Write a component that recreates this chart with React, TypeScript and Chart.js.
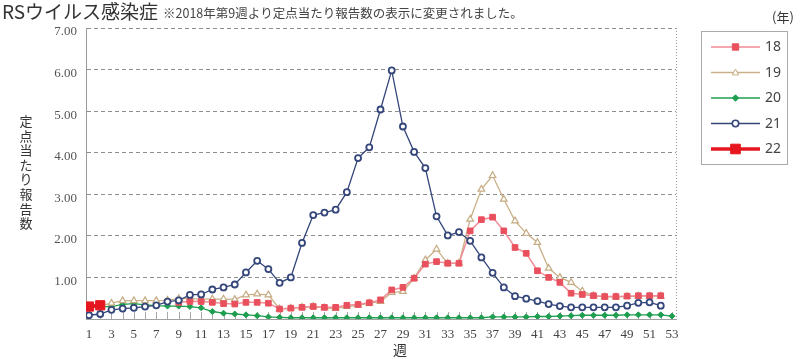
import React, { useEffect, useRef } from 'react';
import { Chart, registerables } from 'chart.js';

Chart.register(...registerables);

const weeks = [1, 2, 3, 4, 5, 6, 7, 8, 9, 10, 11, 12, 13, 14, 15, 16, 17, 18, 19, 20, 21, 22, 23, 24, 25, 26, 27, 28, 29, 30, 31, 32, 33, 34, 35, 36, 37, 38, 39, 40, 41, 42, 43, 44, 45, 46, 47, 48, 49, 50, 51, 52, 53];
const xTickLabels = [1, 3, 5, 7, 9, 11, 13, 15, 17, 19, 21, 23, 25, 27, 29, 31, 33, 35, 37, 39, 41, 43, 45, 47, 49, 51, 53];
const yTickValues = [0, 1, 2, 3, 4, 5, 6, 7];
const seriesNames = ['18', '19', '20', '21', '22'];

const s18 = [null, null, null, null, null, null, null, null, 0.40, 0.42, 0.42, 0.40, 0.37, 0.36, 0.40, 0.40, 0.38, 0.24, 0.26, 0.28, 0.30, 0.28, 0.28, 0.33, 0.35, 0.39, 0.46, 0.70, 0.76, 0.98, 1.32, 1.38, 1.34, 1.34, 2.12, 2.39, 2.45, 2.12, 1.72, 1.58, 1.16, 1.00, 0.88, 0.62, 0.59, 0.56, 0.54, 0.54, 0.55, 0.56, 0.56, 0.56, null];
const s19 = [0.30, 0.32, 0.38, 0.44, 0.44, 0.44, 0.44, 0.45, 0.49, 0.49, 0.48, 0.48, 0.48, 0.47, 0.58, 0.60, 0.58, 0.24, 0.26, 0.28, 0.30, 0.27, 0.25, 0.30, 0.33, 0.38, 0.42, 0.64, 0.66, 0.98, 1.42, 1.68, 1.34, 1.34, 2.40, 3.12, 3.45, 2.88, 2.36, 2.06, 1.84, 1.22, 1.00, 0.88, 0.67, 0.56, 0.53, 0.53, 0.54, 0.55, 0.55, 0.55, null];
const s20 = [0.28, 0.30, 0.30, 0.35, 0.37, 0.34, 0.32, 0.31, 0.31, 0.30, 0.27, 0.18, 0.14, 0.12, 0.10, 0.08, 0.05, 0.04, 0.03, 0.03, 0.03, 0.03, 0.03, 0.03, 0.03, 0.03, 0.03, 0.03, 0.03, 0.03, 0.03, 0.03, 0.03, 0.03, 0.03, 0.03, 0.05, 0.05, 0.05, 0.05, 0.06, 0.06, 0.07, 0.08, 0.09, 0.09, 0.09, 0.09, 0.10, 0.10, 0.10, 0.10, 0.07];
const s21 = [0.09, 0.12, 0.22, 0.25, 0.27, 0.30, 0.33, 0.42, 0.45, 0.58, 0.59, 0.71, 0.76, 0.83, 1.12, 1.40, 1.20, 0.87, 1.00, 1.83, 2.50, 2.56, 2.63, 3.05, 3.87, 4.13, 5.04, 5.98, 4.63, 4.02, 3.63, 2.47, 2.01, 2.09, 1.88, 1.48, 1.11, 0.76, 0.55, 0.49, 0.43, 0.36, 0.31, 0.28, 0.28, 0.28, 0.28, 0.28, 0.32, 0.39, 0.40, 0.32, null];
const s22 = [0.30, 0.33, null, null, null, null, null, null, null, null, null, null, null, null, null, null, null, null, null, null, null, null, null, null, null, null, null, null, null, null, null, null, null, null, null, null, null, null, null, null, null, null, null, null, null, null, null, null, null, null, null, null, null];

const toPoints = (arr: (number | null)[]) => weeks.map((w, i) => ({ x: w, y: arr[i] }));

const SANS_JP = '"Noto Sans CJK JP", "Noto Sans", sans-serif';
const SERIF = '"Liberation Serif", "DejaVu Serif", serif';

type LegendSpec = { style: string; r: number; fill: string; stroke: string; bw: number; line: string; lw: number };
const legendSpecs: LegendSpec[] = [
  { style: 'rect', r: 3.2, fill: '#e9505e', stroke: '#e9505e', bw: 1, line: '#f28b95', lw: 1.5 },
  { style: 'triangle', r: 3.4, fill: '#ffffff', stroke: '#c4ab82', bw: 1, line: '#c9b089', lw: 1.3 },
  { style: 'diamond', r: 3.2, fill: '#1e9e4f', stroke: '#1e9e4f', bw: 1, line: '#1e9e4f', lw: 1.3 },
  { style: 'circle', r: 3.2, fill: '#ffffff', stroke: '#34467a', bw: 1.6, line: '#34467a', lw: 1.3 },
  { style: 'rect', r: 4.8, fill: '#e5161f', stroke: '#e5161f', bw: 1, line: '#e5161f', lw: 3.5 },
];

function drawMarker(ctx: CanvasRenderingContext2D, s: LegendSpec, x: number, y: number) {
  ctx.beginPath();
  if (s.style === 'rect') {
    ctx.rect(x - s.r, y - s.r, s.r * 2, s.r * 2);
  } else if (s.style === 'triangle') {
    ctx.moveTo(x, y - s.r);
    ctx.lineTo(x + s.r * 0.95, y + s.r * 0.7);
    ctx.lineTo(x - s.r * 0.95, y + s.r * 0.7);
    ctx.closePath();
  } else if (s.style === 'diamond') {
    ctx.moveTo(x, y - s.r);
    ctx.lineTo(x + s.r, y);
    ctx.lineTo(x, y + s.r);
    ctx.lineTo(x - s.r, y);
    ctx.closePath();
  } else {
    ctx.arc(x, y, s.r, 0, Math.PI * 2);
  }
  ctx.fillStyle = s.fill;
  ctx.fill();
  ctx.lineWidth = s.bw;
  ctx.strokeStyle = s.stroke;
  ctx.stroke();
}

const decor = {
  id: 'decor',
  beforeDatasetsDraw(chart: any) {
    const { ctx, chartArea: a, scales } = chart;
    const x = scales.x;
    ctx.save();
    ctx.strokeStyle = '#9a9a9a';
    ctx.lineWidth = 1;
    ctx.setLineDash([1, 2]);
    ctx.beginPath();
    const rx = Math.round(a.right) + 0.5;
    ctx.moveTo(rx, a.top);
    ctx.lineTo(rx, a.bottom);
    ctx.stroke();
    ctx.setLineDash([]);
    ctx.strokeStyle = '#a8a8a8';
    ctx.beginPath();
    weeks.forEach((w) => {
      const px = Math.round(x.getPixelForValue(w)) + 0.5;
      ctx.moveTo(px, a.bottom);
      ctx.lineTo(px, a.bottom - 7);
    });
    ctx.stroke();
    ctx.restore();
  },
  afterDraw(chart: any) {
    const { ctx } = chart;
    ctx.save();
    // Title
    ctx.textBaseline = 'middle';
    ctx.textAlign = 'left';
    ctx.fillStyle = '#333333';
    ctx.font = `19px ${SANS_JP}`;
    ctx.fillText('RSウイルス感染症', 2, 12);
    ctx.fillStyle = '#444444';
    ctx.font = `12.5px ${SANS_JP}`;
    ctx.fillText('※2018年第9週より定点当たり報告数の表示に変更されました。', 163, 13);
    // Y-axis title (vertical, upright)
    ctx.fillStyle = '#333333';
    ctx.font = `13px ${SANS_JP}`;
    ctx.textAlign = 'center';
    const yTitle = '定点当たり報告数';
    Array.from(yTitle).forEach((ch, i) => {
      ctx.fillText(ch, 26, 121 + i * 14.6);
    });
    // X-axis title
    ctx.font = `14px ${SANS_JP}`;
    ctx.fillText('週', 400, 350);
    // (年)
    ctx.font = `13px ${SANS_JP}`;
    ctx.fillText('(年)', 783, 17);
    // Legend
    ctx.strokeStyle = '#aaaaaa';
    ctx.lineWidth = 1;
    ctx.strokeRect(701.5, 31.5, 86, 133);
    seriesNames.forEach((name, i) => {
      const s = legendSpecs[i];
      const y = 47 + i * 25.5;
      ctx.beginPath();
      ctx.strokeStyle = s.line;
      ctx.lineWidth = s.lw;
      ctx.moveTo(711, y);
      ctx.lineTo(760, y);
      ctx.stroke();
      drawMarker(ctx, s, 735.5, y);
      ctx.fillStyle = '#444444';
      ctx.font = `14px "Noto Sans", "Open Sans", sans-serif`;
      ctx.textAlign = 'left';
      ctx.fillText(name, 765, y + 0.5);
    });
    ctx.restore();
  },
};

export default function App() {
  const ref = useRef<HTMLCanvasElement | null>(null);

  useEffect(() => {
    if (!ref.current) return;
    const chart = new Chart(ref.current, {
      type: 'line',
      data: {
        datasets: [
          {
            label: seriesNames[4],
            data: toPoints(s22),
            borderColor: '#e5161f',
            backgroundColor: '#e5161f',
            borderWidth: 3.5,
            pointStyle: 'rect',
            pointRadius: 6.5,
            pointBackgroundColor: '#e5161f',
            pointBorderColor: '#e5161f',
            pointBorderWidth: 1,
            order: 0,
          },
          {
            label: seriesNames[3],
            data: toPoints(s21),
            borderColor: '#34467a',
            backgroundColor: '#ffffff',
            borderWidth: 1.3,
            pointStyle: 'circle',
            pointRadius: 3,
            pointBackgroundColor: '#ffffff',
            pointBorderColor: '#34467a',
            pointBorderWidth: 1.8,
            order: 1,
          },
          {
            label: seriesNames[0],
            data: toPoints(s18),
            borderColor: '#f28b95',
            backgroundColor: '#e9505e',
            borderWidth: 1.5,
            pointStyle: 'rect',
            pointRadius: 4,
            pointBackgroundColor: '#e9505e',
            pointBorderColor: '#e9505e',
            pointBorderWidth: 1,
            order: 2,
          },
          {
            label: seriesNames[1],
            data: toPoints(s19),
            borderColor: '#c9b089',
            backgroundColor: '#ffffff',
            borderWidth: 1.3,
            pointStyle: 'triangle',
            pointRadius: 3.8,
            pointBackgroundColor: '#ffffff',
            pointBorderColor: '#c4ab82',
            pointBorderWidth: 1.2,
            order: 3,
          },
          {
            label: seriesNames[2],
            data: toPoints(s20),
            borderColor: '#1e9e4f',
            backgroundColor: '#1e9e4f',
            borderWidth: 1.3,
            pointStyle: 'rectRot',
            pointRadius: 3,
            pointBackgroundColor: '#1e9e4f',
            pointBorderColor: '#1e9e4f',
            pointBorderWidth: 1,
            order: 4,
          },
        ],
      },
      options: {
        animation: false,
        responsive: false,
        maintainAspectRatio: false,
        spanGaps: false,
        layout: { padding: { left: 0, right: 124, top: 28, bottom: 0 } },
        plugins: {
          legend: { display: false },
          tooltip: { enabled: false },
          title: { display: false },
        },
        scales: {
          x: {
            type: 'linear',
            min: 0.73,
            max: 53.36,
            afterBuildTicks: (s: any) => {
              s.ticks = xTickLabels.map((v) => ({ value: v }));
            },
            afterFit: (s: any) => {
              s.height = 40;
            },
            grid: { display: false, drawTicks: false },
            border: { display: true, color: '#a0a0a0', width: 1 },
            ticks: {
              autoSkip: false,
              maxRotation: 0,
              padding: 8,
              color: '#444444',
              font: { family: SERIF, size: 13 },
              callback: (v: any) => String(v),
            },
          },
          y: {
            min: 0,
            max: 7,
            afterBuildTicks: (s: any) => {
              s.ticks = yTickValues.map((v) => ({ value: v }));
            },
            afterFit: (s: any) => {
              s.width = 86;
            },
            grid: { color: '#8e8e8e', lineWidth: 1, drawTicks: false },
            border: { display: true, color: '#9a9a9a', width: 1, dash: [4, 3] },
            ticks: {
              padding: 9,
              labelOffset: 4,
              color: '#555555',
              font: { family: SERIF, size: 13 },
              callback: (v: any) => (Number(v) === 0 ? '' : Number(v).toFixed(2)),
            },
          },
        },
      },
      plugins: [decor],
    });
    return () => chart.destroy();
  }, []);

  return (
    <div style={{ position: 'absolute', left: 0, top: 0, width: 800, height: 359, background: '#ffffff' }}>
      <canvas ref={ref} width={800} height={359} style={{ display: 'block' }} />
    </div>
  );
}
